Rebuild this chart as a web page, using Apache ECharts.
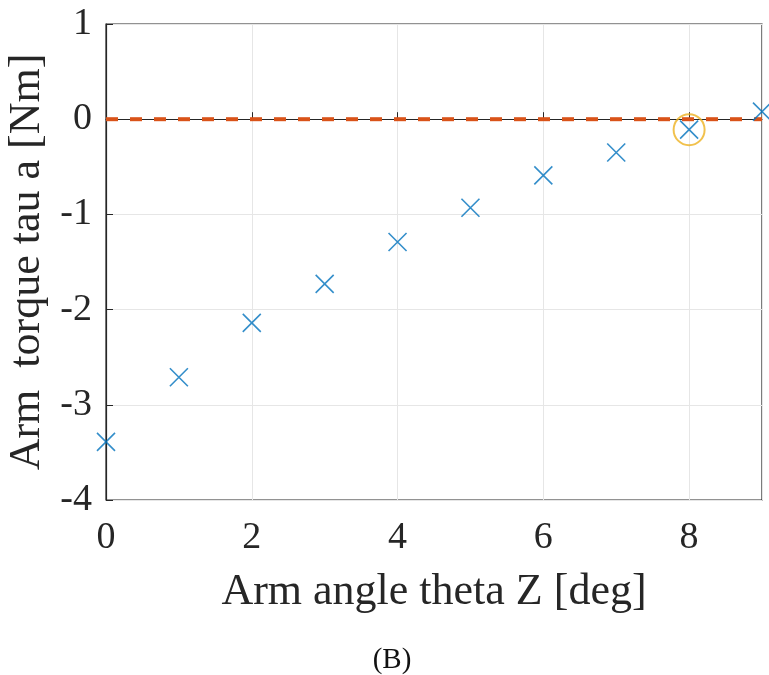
<!DOCTYPE html>
<html>
<head>
<meta charset="utf-8">
<script src="https://cdn.jsdelivr.net/npm/echarts@6/dist/echarts.min.js"></script>
<style>
  html, body { margin: 0; padding: 0; background: #fff; }
  #chart { width: 769px; height: 675px; }
</style>
</head>
<body>
<div id="chart"></div>
<script>
// 数据
var angles = [0, 1, 2, 3, 4, 5, 6, 7, 8, 9];
var torques = [-3.39, -2.71, -2.14, -1.73, -1.29, -0.93, -0.59, -0.35, -0.11, 0.08];
var zeroLine = [[0, 0], [9, 0]];
var picked = [[8, -0.11]];
var xTicks = [0, 2, 4, 6, 8];
var yTicks = [-4, -3, -2, -1, 0, 1];

var font = 'Liberation Serif';
var textColor = '#262626';

var myChart = echarts.init(document.getElementById('chart'));

myChart.setOption({
    backgroundColor: '#fff',
    animation: false,
    graphic: [{
        type: 'text',
        x: 392,
        y: 660,
        style: {
            text: '(B)',
            font: '29px "Liberation Serif"',
            fill: '#111',
            textAlign: 'center',
            textVerticalAlign: 'middle'
        }
    }],
    grid: {
        left: 106, right: 7, top: 24, bottom: 175,
        outerBoundsMode: 'none',
        containLabel: false,
        show: true,
        borderColor: '#262626',
        borderWidth: 1.2
    },
    xAxis: {
        type: 'value',
        min: 0,
        max: 9,
        interval: 2,
        name: 'Arm angle theta Z [deg]',
        nameLocation: 'middle',
        nameGap: 70,
        nameTextStyle: { fontFamily: font, fontSize: 44, color: textColor },
        axisLine: { show: true, lineStyle: { color: '#262626', width: 1.2 } },
        axisTick: { show: true, inside: true, length: 7, lineStyle: { color: '#262626' } },
        axisLabel: {
            fontFamily: font, fontSize: 38, color: textColor, margin: 19,
            showMaxLabel: false,
            formatter: function (v) { return xTicks.indexOf(v) >= 0 ? String(v) : ''; }
        },
        splitLine: { show: true, lineStyle: { color: '#e6e6e6', width: 1 } }
    },
    yAxis: {
        type: 'value',
        min: -4,
        max: 1,
        interval: 1,
        name: 'Arm  torque tau a [Nm]',
        nameLocation: 'middle',
        nameGap: 50,
        nameTextStyle: { fontFamily: font, fontSize: 44, color: textColor },
        axisLine: { show: true, lineStyle: { color: '#262626', width: 1.2 } },
        axisTick: { show: true, inside: true, length: 7, lineStyle: { color: '#262626' } },
        axisLabel: {
            fontFamily: font, fontSize: 38, color: textColor, margin: 14,
            formatter: function (v) { return yTicks.indexOf(v) >= 0 ? String(v) : ''; }
        },
        splitLine: { show: true, lineStyle: { color: '#e6e6e6', width: 1 } }
    },
    series: [
        {
            type: 'line',
            data: zeroLine,
            symbol: 'none',
            lineStyle: { color: '#D95319', width: 4, type: [12, 12] },
            z: 2
        },
        {
            type: 'scatter',
            data: torques.map(function (t, i) { return [angles[i], t]; }),
            symbol: 'path://M0,0L10,10M10,0L0,10',
            symbolSize: 18,
            itemStyle: { color: 'none', borderColor: '#0072BD', borderWidth: 1.6 },
            z: 3
        },
        {
            type: 'scatter',
            data: picked,
            symbol: 'circle',
            symbolSize: 31,
            itemStyle: { color: 'none', borderColor: '#EDB120', borderWidth: 2 },
            z: 4
        }
    ]
});
</script>
</body>
</html>
